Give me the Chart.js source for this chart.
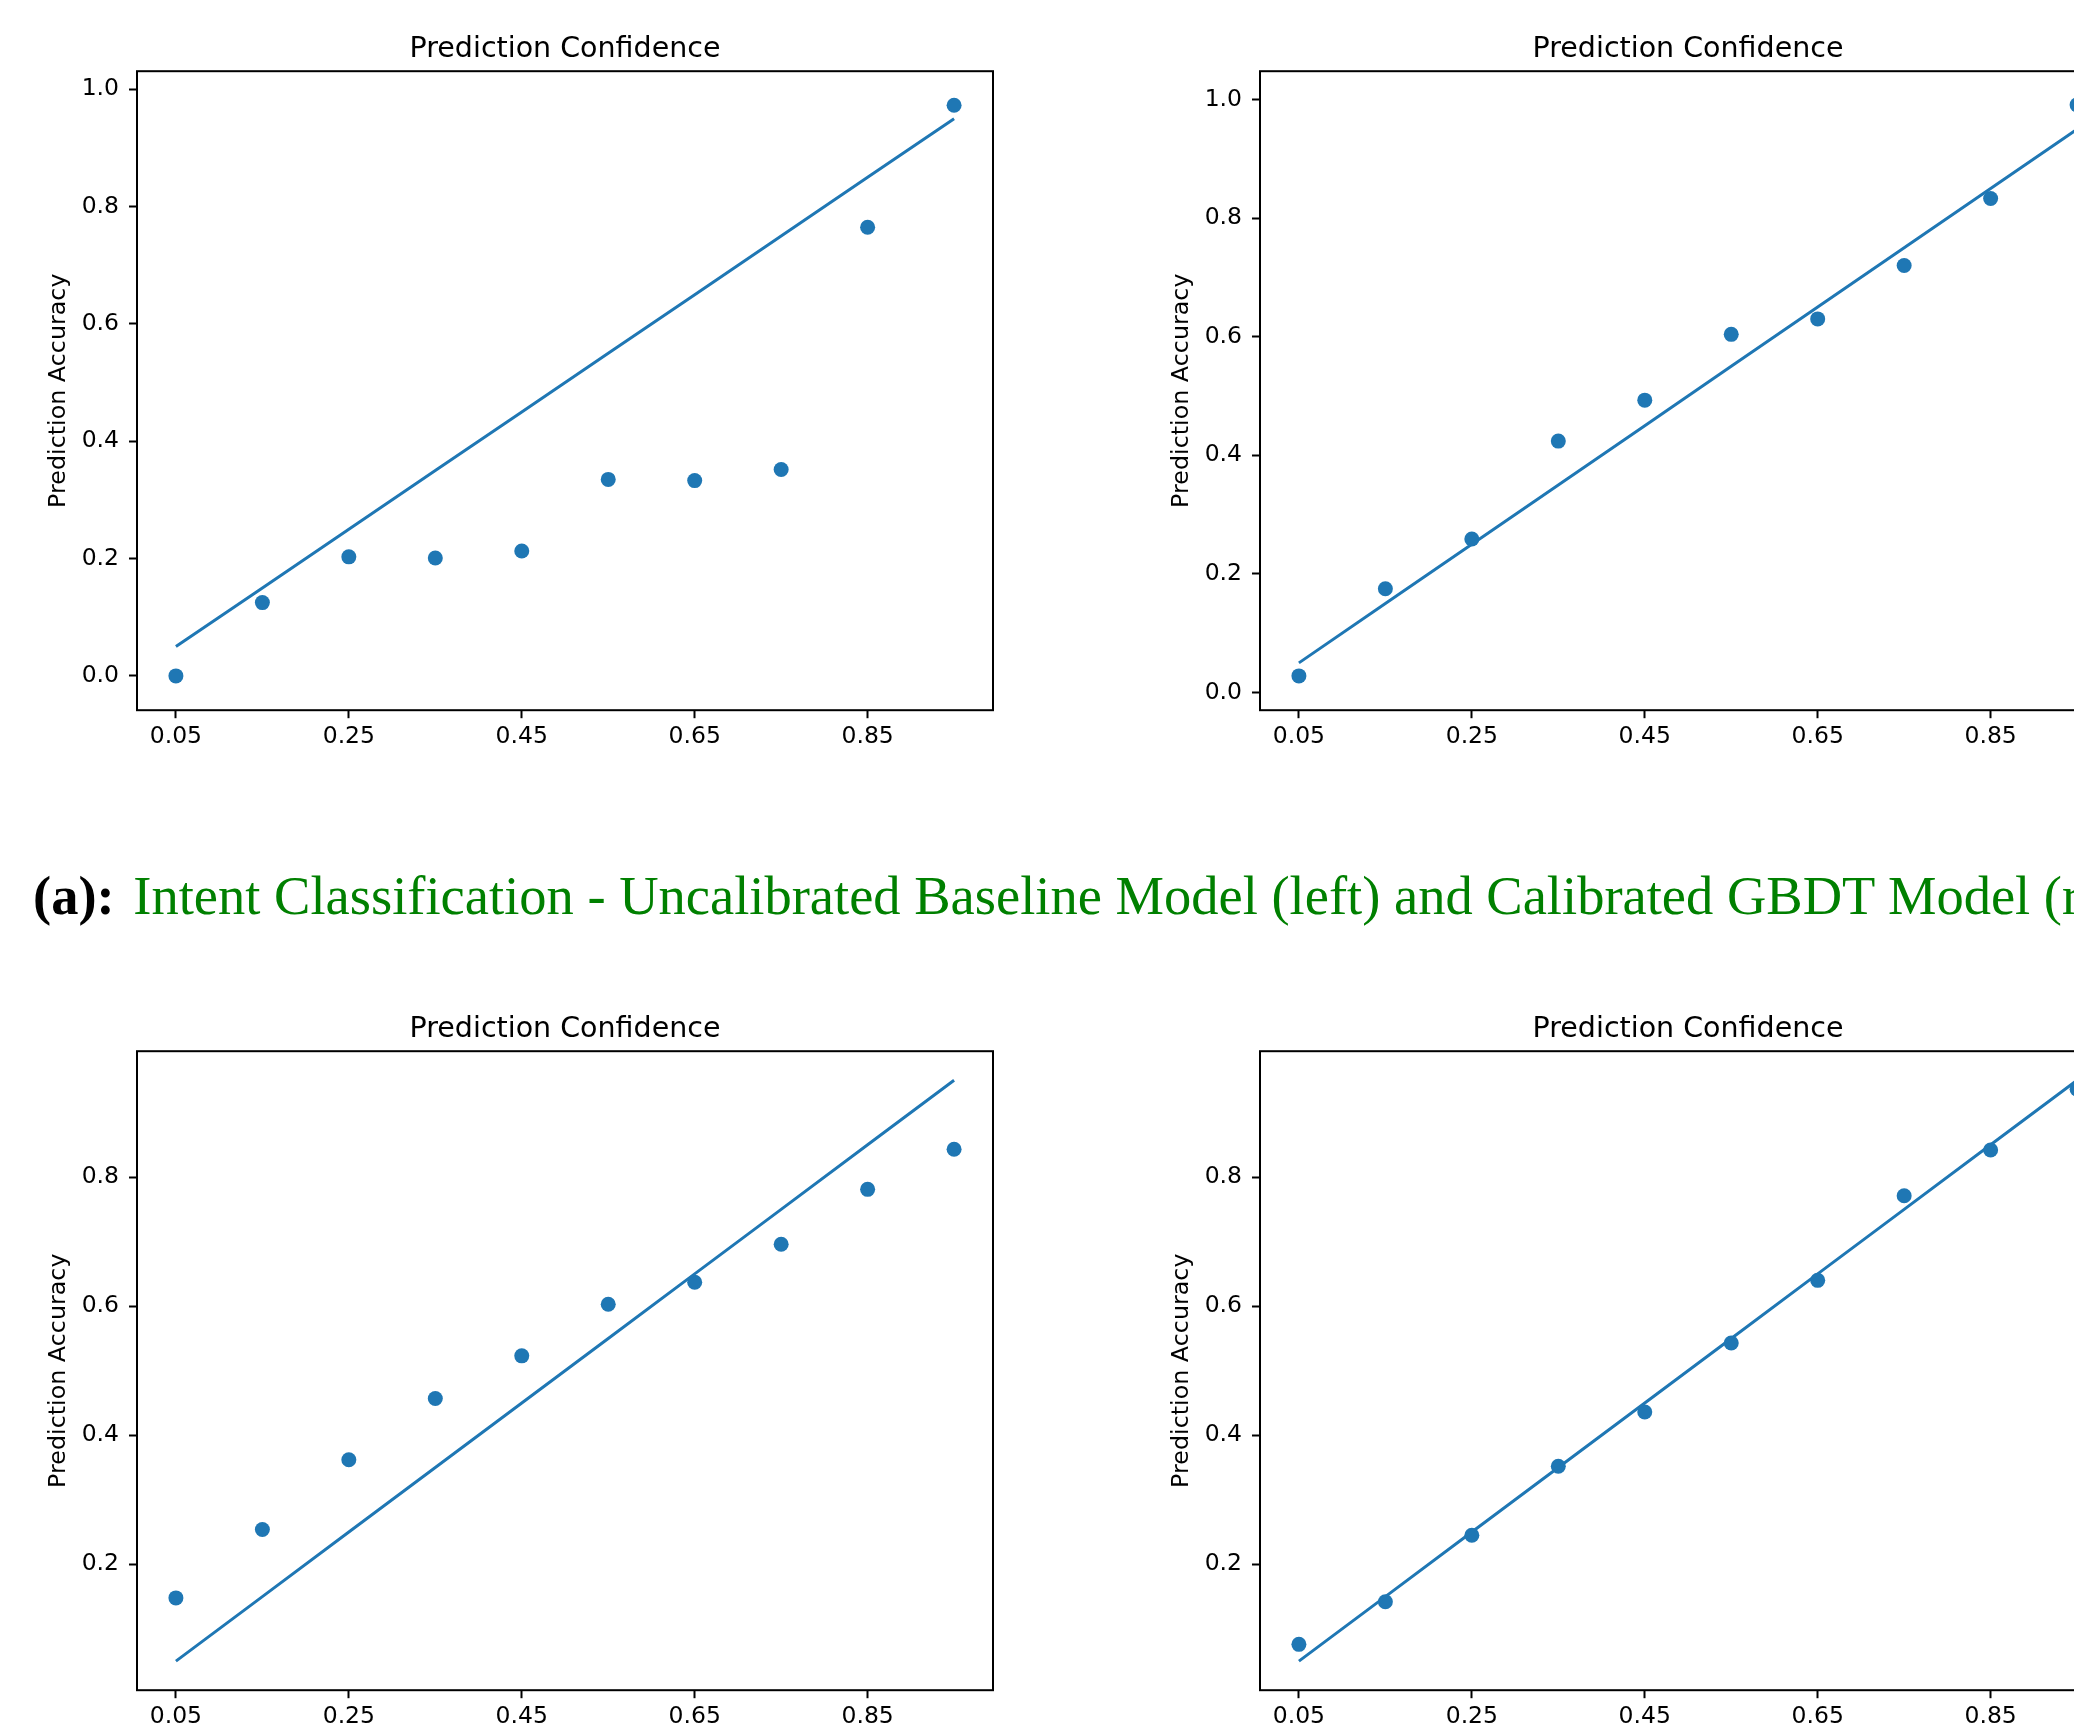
<!DOCTYPE html>
<html>
<head>
<meta charset="utf-8">
<script src="https://cdn.jsdelivr.net/npm/chart.js@4.4.1/dist/chart.umd.min.js"></script>
<style>
  html, body { margin: 0; padding: 0; background: #fff; }
  body { width: 2074px; height: 1724px; overflow: hidden; position: relative; }
  .panel { position: absolute; width: 1037px; height: 800px; }
  #caption {
    position: absolute; left: 33px; top: 869px;
    font-family: "Liberation Serif", "Times New Roman", serif;
    font-size: 54.5px; line-height: 54.5px; white-space: nowrap; color: #008000;
  }
  #caption b { color: #000; margin-right: 5px; }
</style>
</head>
<body>
<div class="panel" style="left:0;top:0"><canvas id="intentBase" width="1037" height="800"></canvas></div>
<div class="panel" style="left:1123px;top:0"><canvas id="intentGbdt" width="1037" height="800"></canvas></div>
<div id="caption"><b>(a):</b> Intent Classification - Uncalibrated Baseline Model (left) and Calibrated GBDT Model (right)</div>
<div class="panel" style="left:0;top:980px"><canvas id="lowerBase" width="1037" height="800"></canvas></div>
<div class="panel" style="left:1123px;top:980px"><canvas id="lowerGbdt" width="1037" height="800"></canvas></div>
<script>
// bin centres of the confidence histogram (x) and the ideal diagonal
const binCenters = [0.05, 0.15, 0.25, 0.35, 0.45, 0.55, 0.65, 0.75, 0.85, 0.95];
const xTicks = [0.05, 0.25, 0.45, 0.65, 0.85];
const xTickLabels = ["0.05", "0.25", "0.45", "0.65", "0.85"];

const yTicksFull = [0.0, 0.2, 0.4, 0.6, 0.8, 1.0];
const yTickLabelsFull = ["0.0", "0.2", "0.4", "0.6", "0.8", "1.0"];
const yTicksInner = [0.2, 0.4, 0.6, 0.8];
const yTickLabelsInner = ["0.2", "0.4", "0.6", "0.8"];

// measured accuracy per bin
const intentBaseAcc = [0.0, 0.125, 0.203, 0.201, 0.213, 0.335, 0.333, 0.352, 0.765, 0.973];
const intentGbdtAcc = [0.028, 0.175, 0.259, 0.424, 0.493, 0.604, 0.630, 0.720, 0.833, 0.991];
const lowerBaseAcc = [0.148, 0.254, 0.362, 0.457, 0.523, 0.603, 0.637, 0.696, 0.781, 0.843];
const lowerGbdtAcc = [0.076, 0.142, 0.245, 0.352, 0.436, 0.543, 0.640, 0.771, 0.842, 0.936];

const blue = "#1f77b4";
const tickFont = { family: "DejaVu Sans", size: 23.5 };

// axes frame on all four sides, like matplotlib spines
const framePlugin = {
  id: "frame",
  afterDraw(chart) {
    const a = chart.chartArea;
    const ctx = chart.ctx;
    ctx.save();
    ctx.strokeStyle = "#000";
    ctx.lineWidth = 2;
    ctx.strokeRect(a.left, a.top, a.right - a.left, a.bottom - a.top);
    ctx.restore();
  }
};

function buildChart(id, accuracy, yMin, yMax, yTicks, yLabels) {
  return new Chart(document.getElementById(id), {
    type: "scatter",
    data: {
      datasets: [
        {
          data: binCenters.map(x => ({ x: x, y: x })),
          showLine: true,
          borderColor: blue,
          borderWidth: 3,
          pointRadius: 0,
          fill: false
        },
        {
          data: binCenters.map((x, i) => ({ x: x, y: accuracy[i] })),
          backgroundColor: blue,
          borderWidth: 0,
          pointRadius: 7.5
        }
      ]
    },
    options: {
      responsive: false,
      animation: false,
      devicePixelRatio: 1,
      layout: { padding: { left: 0, right: 44, top: 0, bottom: 0 } },
      plugins: {
        legend: { display: false },
        tooltip: { enabled: false },
        title: {
          display: true,
          text: "Prediction Confidence",
          fullSize: false,
          color: "#000",
          font: { family: "DejaVu Sans", size: 28.5, weight: "normal" },
          padding: { top: 32, bottom: 5 }
        }
      },
      scales: {
        x: {
          type: "linear",
          min: 0.005,
          max: 0.995,
          afterBuildTicks: s => { s.ticks = xTicks.map(v => ({ value: v })); },
          afterFit: s => { s.height = 89.8; },
          ticks: {
            color: "#000",
            font: tickFont,
            padding: 5,
            maxRotation: 0,
            autoSkip: false,
            callback: (v, i) => xTickLabels[i]
          },
          grid: { drawOnChartArea: false, tickLength: 8, tickWidth: 2, tickColor: "#000" },
          border: { display: false }
        },
        y: {
          type: "linear",
          min: yMin,
          max: yMax,
          afterBuildTicks: s => { s.ticks = yTicks.map(v => ({ value: v })); },
          afterFit: s => { s.width = 137; },
          title: {
            display: true,
            text: "Prediction Accuracy",
            color: "#000",
            font: { family: "DejaVu Sans", size: 23.8 },
            padding: { top: 45, bottom: 0 }
          },
          ticks: {
            color: "#000",
            font: tickFont,
            padding: 10,
            autoSkip: false,
            callback: (v, i) => yLabels[i]
          },
          grid: { drawOnChartArea: false, tickLength: 8, tickWidth: 2, tickColor: "#000" },
          border: { display: false }
        }
      }
    },
    plugins: [framePlugin]
  });
}

buildChart("intentBase", intentBaseAcc, -0.0585, 1.031, yTicksFull, yTickLabelsFull);
buildChart("intentGbdt", intentGbdtAcc, -0.0298, 1.0477, yTicksFull, yTickLabelsFull);
buildChart("lowerBase", lowerBaseAcc, 0.005, 0.995, yTicksInner, yTickLabelsInner);
buildChart("lowerGbdt", lowerGbdtAcc, 0.005, 0.995, yTicksInner, yTickLabelsInner);
</script>
</body>
</html>
